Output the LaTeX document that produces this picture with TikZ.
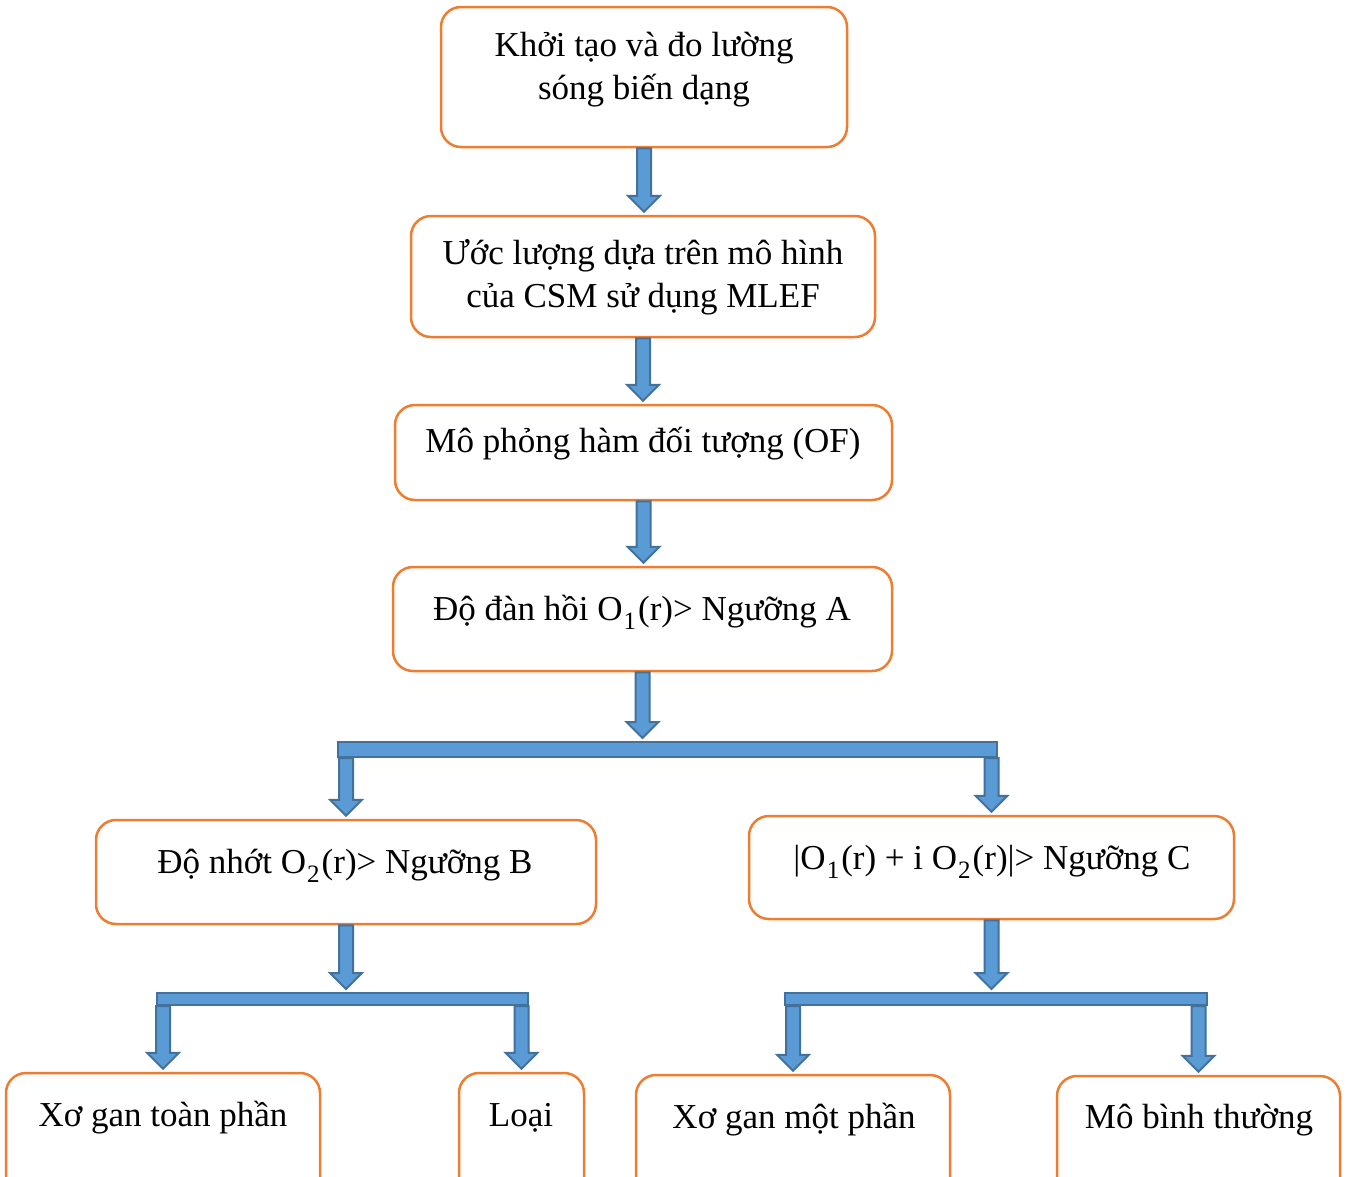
\documentclass[tikz,border=0pt]{standalone}
\usepackage{fontspec}
\setmainfont{Liberation Serif}
\usetikzlibrary{calc}
\definecolor{boxorange}{HTML}{ED7D31}
\definecolor{arrfill}{HTML}{5B9BD5}
\definecolor{arredge}{HTML}{41719C}
\tikzset{
  box/.style={draw=boxorange, line width=2.5pt, rounded corners=20pt, fill=white, inner sep=0pt},
  txt/.style={anchor=base, inner sep=0pt, font=\fontsize{35}{43}\selectfont},
  bar/.style={draw=arredge, line width=2pt, fill=arrfill, inner sep=0pt},
  blk/.style={draw=arredge, line width=2pt, fill=arrfill, line join=miter}
}
\newcommand{\sbs}[1]{\kern1pt\raisebox{-9pt}{\fontsize{25}{25}\selectfont #1}\kern2pt}
\newcommand{\boxat}[5]{\node[box, minimum width={#4-#2}, minimum height={#5-#3}] (#1) at ({(#2+#4)/2},{(#3+#5)/2}) {};}
\newcommand{\barat}[5]{\node[bar, minimum width={#4-#2}, minimum height={#5-#3}] (#1) at ({(#2+#4)/2},{(#3+#5)/2}) {};}
\newcommand{\barrow}[2]{\draw[blk] let \p1=#1, \p2=#2 in
  (\x1-7pt,\y1) -- (\x1+7pt,\y1) -- (\x1+7pt,\y2+19pt) -- (\x1+16pt,\y2+19pt) -- (\x1,\y2+3pt)
  -- (\x1-16pt,\y2+19pt) -- (\x1-7pt,\y2+19pt) -- cycle;}
\begin{document}
\begin{tikzpicture}[x=1pt,y=-1pt]
\clip (0,0) rectangle (1347,1176);
\fill[white] (0,0) rectangle (1347,1176);
% boxes
\boxat{b1}{441}{7}{847}{147}
\boxat{b2}{411}{216}{875}{337}
\boxat{b3}{395}{405}{892}{500}
\boxat{b4}{393}{567}{892}{671}
\boxat{b5}{96}{820}{596}{924}
\boxat{b6}{749}{816}{1234}{919}
\boxat{b7}{6}{1073}{320}{1210}
\boxat{b8}{459}{1073}{584}{1210}
\boxat{b9}{636}{1075}{950}{1210}
\boxat{b10}{1057}{1076}{1340}{1210}
% texts
\node[txt] (t1a) at (644,56) {Khởi tạo và đo lường};
\node[txt] (t1b) at (644,99) {sóng biến dạng};
\node[txt] (t2a) at (643,264) {Ước lượng dựa trên mô hình};
\node[txt] (t2b) at (643,307) {của CSM sử dụng MLEF};
\node[txt] (t3) at (643,452) {Mô phỏng hàm đối tượng (OF)};
\node[txt] (t4) at (642,620) {Độ đàn hồi O\sbs{1}(r)> Ngưỡng A};
\node[txt] (t5) at (345,873) {Độ nhớt O\sbs{2}(r)> Ngưỡng B};
\node[txt] (t6) at (992,869) {|O\sbs{1}(r) + i O\sbs{2}(r)|> Ngưỡng C};
\node[txt] (t7) at (163,1126) {Xơ gan toàn phần};
\node[txt] (t8) at (521,1126) {Loại};
\node[txt] (t9) at (794,1128) {Xơ gan một phần};
\node[txt] (t10) at (1199,1128) {Mô bình thường};
% bars
\barat{bar1}{338}{742}{997}{757}
\barat{bar2}{157}{993}{528}{1005}
\barat{bar3}{785}{993}{1207}{1005}
% arrows
\barrow{(b1.south)}{(b2.north)}
\barrow{(b2.south)}{(b3.north)}
\barrow{(b3.south)}{(b4.north)}
\barrow{(b4.south)}{(b4.south |- bar1.north)}
\barrow{(b5.north |- bar1.south)}{(b5.north)}
\barrow{(b6.north |- bar1.south)}{(b6.north)}
\barrow{(b5.south)}{(b5.south |- bar2.north)}
\barrow{(b7.north |- bar2.south)}{(b7.north)}
\barrow{(b8.north |- bar2.south)}{(b8.north)}
\barrow{(b6.south)}{(b6.south |- bar3.north)}
\barrow{(b9.north |- bar3.south)}{(b9.north)}
\barrow{(b10.north |- bar3.south)}{(b10.north)}
\end{tikzpicture}
\end{document}
